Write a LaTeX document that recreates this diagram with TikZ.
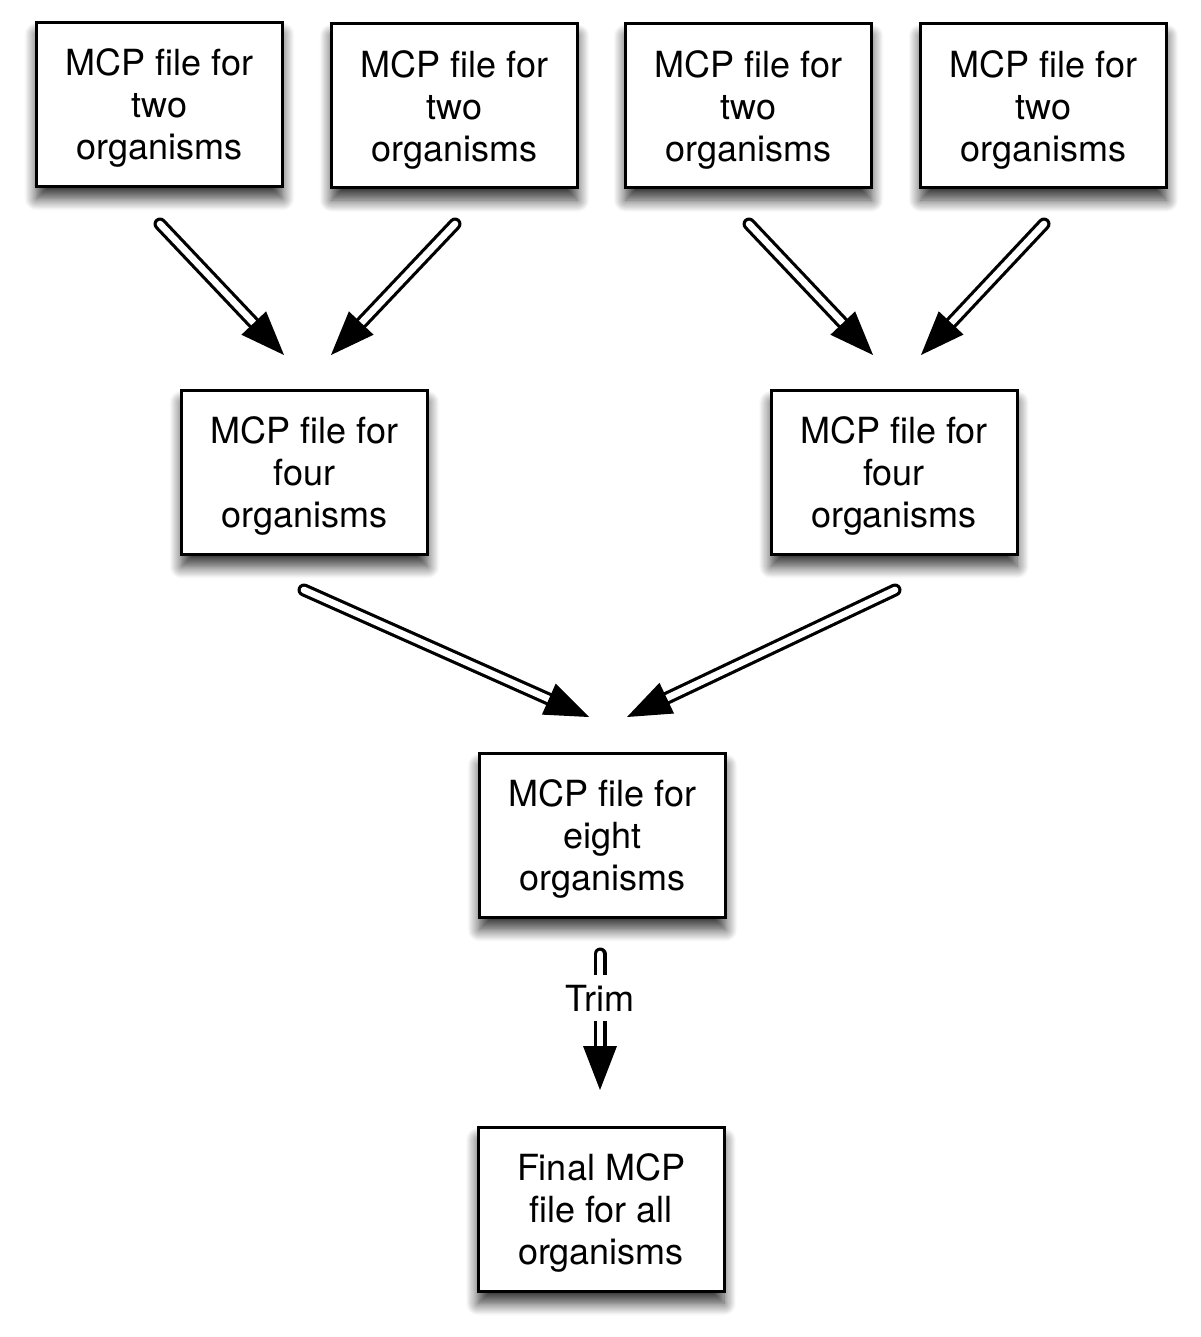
\documentclass[tikz,border=0pt]{standalone}
\usepackage{fontspec}
\setmainfont{TeX Gyre Heros}
\usetikzlibrary{calc,shadows.blur}
\newcommand\ts{\rule{0pt}{17pt}}
\tikzset{
 box/.style={draw=black, line width=1.5pt, fill=white, minimum width=123pt, minimum height=82pt,
   align=center, font=\fontsize{18}{21}\selectfont, inner sep=0pt,
   blur shadow={shadow xshift=0pt, shadow yshift=-6pt, shadow blur radius=6pt, shadow blur steps=12, shadow opacity=80}},
 shaftout/.style={line width=6.5pt, line cap=round, draw=black},
 shaftin/.style={line width=3.3pt, line cap=round, draw=white},
 headfill/.style={fill=black},
 lbl/.style={fill=white, inner xsep=1pt, inner ysep=5pt, font=\fontsize{18}{21}\selectfont},
}
\newcommand\hshaft[2]{%
 \draw[shaftout] (#1) -- ($(#2)!21pt!(#1)$);
 \draw[shaftin] (#1) -- ($(#2)!21pt!(#1)$);}
\newcommand\hhead[2]{%
 \coordinate (hb) at ($(#2)!22pt!(#1)$);
 \fill[headfill] (#2) -- ($(hb)!8.5pt!90:(#2)$) -- ($(hb)!8.5pt!-90:(#2)$) -- cycle;}
\begin{document}
\begin{tikzpicture}[x=0.5pt,y=-0.5pt]
\useasboundingbox (0,0) rectangle (1200,1337);
\node[box] (b1) at (159.5,104.5) {\ts MCP file for\\two\\organisms};
\node[box] (b2) at (454.5,106) {\ts MCP file for\\two\\organisms};
\node[box] (b3) at (748.5,106) {\ts MCP file for\\two\\organisms};
\node[box] (b4) at (1043.5,106) {\ts MCP file for\\two\\organisms};
\node[box] (b5) at (304.5,472.5) {\ts MCP file for\\four\\organisms};
\node[box] (b6) at (894,472.5) {\ts MCP file for\\four\\organisms};
\node[box] (b7) at (602.5,835.5) {\ts MCP file for\\eight\\organisms};
\node[box] (b8) at (601,1209.5) {\ts Final MCP\\file for all\\organisms};
% arrow end points
\coordinate (s1) at (160,224); \coordinate (t1) at (284,355);
\coordinate (s2) at (455,224); \coordinate (t2) at (331,355);
\coordinate (s3) at (749,224); \coordinate (t3) at (873,355);
\coordinate (s4) at (1044,224); \coordinate (t4) at (921,355);
\coordinate (s5) at (304,590); \coordinate (t5) at (589,717);
\coordinate (s6) at (895,590); \coordinate (t6) at (627,717);
\coordinate (s7) at (600,954); \coordinate (t7) at (600,1090);
\hshaft{s1}{t1}\hhead{s1}{t1}
\hshaft{s2}{t2}\hhead{s2}{t2}
\hshaft{s3}{t3}\hhead{s3}{t3}
\hshaft{s4}{t4}\hhead{s4}{t4}
\hshaft{s5}{t5}\hhead{s5}{t5}
\hshaft{s6}{t6}\hhead{s6}{t6}
\hshaft{s7}{t7}
\node[lbl] (trim) at (600,998) {Trim};
\hhead{s7}{t7}
\end{tikzpicture}
\end{document}
